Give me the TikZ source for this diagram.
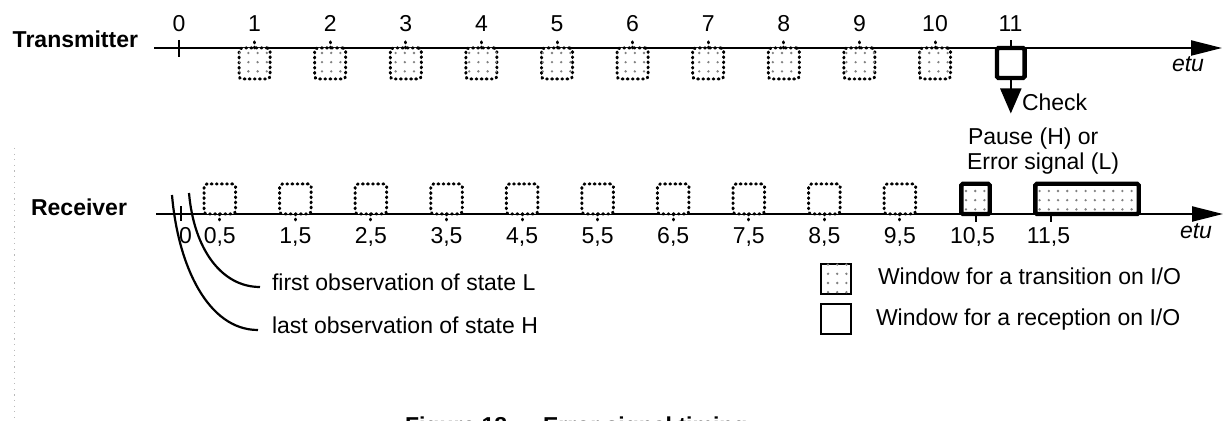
\documentclass[tikz,border=0pt]{standalone}
\usepackage{fontspec}
\setmainfont{Liberation Sans}
\usetikzlibrary{arrows.meta,patterns.meta}
\begin{document}
\begin{tikzpicture}[x=0.5pt,y=-0.5pt,
  every node/.style={font=\fontsize{11.5}{13.8}\selectfont, inner sep=0pt, outer sep=0pt},
  bold/.style={font=\fontsize{11.5}{13.8}\selectfont\bfseries},
  axisline/.style={line width=1.1pt, -{Triangle[length=15.5pt,width=7.5pt]}},
  dotline/.style={line width=1.5pt, line cap=round, dash pattern=on 0.45pt off 2.1pt},
  dotfill/.style={postaction={pattern={Dots[radius=0.65pt,distance=4.6pt]}, pattern color=gray}},
  dotbox/.style={dotline, draw, rounded corners=1.5pt, fill=white},
  tbox/.style={dotbox, dotfill, minimum width=15.5pt, minimum height=15.5pt},
  rbox/.style={dotbox, minimum width=15.75pt, minimum height=15pt},
  thickbox/.style={draw, line width=2.2pt, rounded corners=0.8pt, fill=white},
  tick/.style={line width=1pt},
  curve/.style={line width=1.1pt},
  legbox/.style={draw, line width=1pt, fill=white, minimum width=15pt, minimum height=15pt},
]
\clip (0,0) rectangle (1224,421);
\useasboundingbox (0,0) rectangle (1224,421);

% faint dotted line at left edge
\coordinate (ea) at (14.5,148);
\coordinate (eb) at (14.5,421);
\draw[gray!55, line width=0.5pt, dash pattern=on 0.6pt off 2.2pt] (ea) -- (eb);

% ---------------- Transmitter ----------------
\node[bold, anchor=base east] (tx) at (138,48) {Transmitter};
\coordinate (ts) at (154,48);
\coordinate (te) at (1222,48);
\draw[axisline] (ts) -- (te);
\coordinate (t0a) at (179,40);
\coordinate (t0b) at (179,57);
\draw[tick] (t0a) -- (t0b);
\node[anchor=base] (tn0) at (179,32) {0};
\foreach \i in {1,...,10} {
  \pgfmathsetmacro\xx{179+75.6*\i}
  \node[tbox] (t\i) at (\xx,63.5) {};
  \draw[dotline] (t\i.north) -- ++(0,-8);
  \node[anchor=base] (tn\i) at (\xx,32) {\i};
}
\node[thickbox, minimum width=13.85pt, minimum height=15pt] (t11) at (1010.8,63) {};
\draw[tick] (t11.north) -- ++(0,-8);
\node[anchor=base] (tn11) at (1010.5,32) {11};
\node[anchor=base west] (etu1) at (1172,72) {\itshape etu};
\coordinate (chk) at (1010.8,113.5);
\draw[line width=1pt, -{Triangle[length=12.5pt,width=10.5pt]}] (t11.south) -- (chk);
\node[anchor=base west] (check) at (1022,111) {Check};
\node[anchor=base west] (pause) at (968,144.5) {Pause (H) or};
\node[anchor=base west] (err) at (967,169.5) {Error signal (L)};

% ---------------- Receiver ----------------
\node[bold, anchor=base east] (rx) at (127,216) {Receiver};
\coordinate (rs) at (156,214);
\coordinate (re) at (1223,214);
\draw[axisline] (rs) -- (re);
\coordinate (r0a) at (181,206.5);
\coordinate (r0b) at (181,221.5);
\draw[tick] (r0a) -- (r0b);
\node[anchor=base] (rn0) at (185.5,244) {0};
\foreach \i/\lab in {0/{0,5},1/{1,5},2/{2,5},3/{3,5},4/{4,5},5/{5,5},6/{6,5},7/{7,5},8/{8,5},9/{9,5}} {
  \pgfmathsetmacro\xx{182+75.57*(\i+0.5)}
  \node[rbox] (r\i) at (\xx,199) {};
  \draw[dotline] (r\i.south) -- ++(0,8);
  \node[anchor=base] (rn\i) at (\xx,244) {\lab};
}
\node[thickbox, dotfill, minimum width=14.2pt, minimum height=15.15pt] (r10) at (975.5,198.9) {};
\draw[tick] (r10.south) -- ++(0,8);
\node[anchor=base] (rn10) at (972.5,244) {10,5};
\node[thickbox, dotfill, minimum width=51.7pt, minimum height=15.15pt] (r11) at (1087,198.9) {};
\coordinate (r11t) at (1050.7,214);
\coordinate (r11b) at (1050.7,222.5);
\draw[tick] (r11t) -- (r11b);
\node[anchor=base] (rn11) at (1048.5,244) {11,5};
\node[anchor=base west] (etu2) at (1180,239) {\itshape etu};

% observation curves
\coordinate (hA) at (172,195);
\coordinate (hB) at (258,330);
\draw[curve] (hA) .. controls (178,266) and (208,330) .. (hB);
\coordinate (lA) at (189,193);
\coordinate (lB) at (260,287);
\draw[curve] (lA) .. controls (194,250) and (222,287) .. (lB);
\node[anchor=base west] (first) at (272,291) {first observation of state L};
\node[anchor=base west] (last) at (272,334) {last observation of state H};

% legend
\node[legbox, dotfill] (lg1) at (835.7,278.7) {};
\node[anchor=base west] (lt1) at (878,285) {Window for a transition on I/O};
\node[legbox] (lg2) at (835.7,319.5) {};
\node[anchor=base west] (lt2) at (876,326) {Window for a reception on I/O};

% caption (cut off at the bottom edge, as in the reference)
\node[bold, anchor=base west] (cap) at (405,433) {Figure 18 — Error signal timing};
\end{tikzpicture}
\end{document}
